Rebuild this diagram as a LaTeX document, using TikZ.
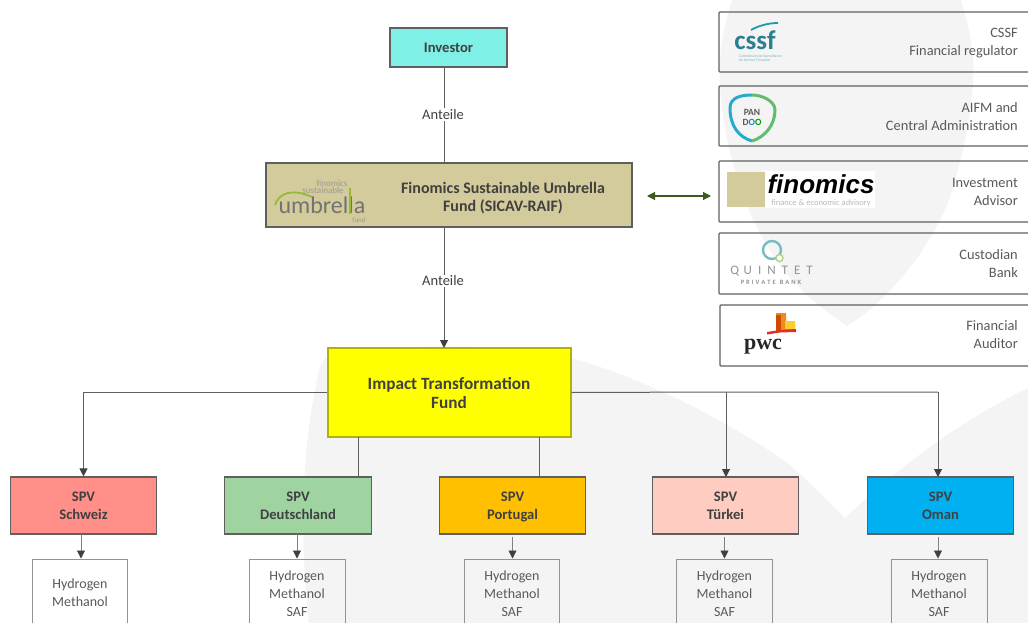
\documentclass[tikz,border=0pt]{standalone}
\usepackage{fontspec}
\setmainfont{Carlito}
\newfontfamily\heavyfont{Liberation Sans}
\newfontfamily\pwcfont{Liberation Serif}
\usetikzlibrary{arrows.meta}
\definecolor{wm}{HTML}{F4F4F4}
\definecolor{linecol}{HTML}{5F5F5F}
\definecolor{txtdark}{HTML}{404040}
\definecolor{txtgray}{HTML}{595959}
\definecolor{teal1}{HTML}{2B7F8C}
\definecolor{tan1}{RGB}{211,203,155}
\definecolor{pureyellow}{RGB}{255,255,0}
\newcommand{\twolines}[2]{\rule{0pt}{15.4pt}#1\\#2\rule[-5.4pt]{0pt}{0pt}}
\tikzset{
  x=1pt,y=-1pt,
  box/.style={draw=linecol,line width=1.2pt,inner sep=0pt,text=txtdark,align=center,font=\bfseries\fontsize{14.6}{18}\selectfont},
  spv/.style={box,minimum width=146.5pt,minimum height=57pt},
  product/.style={draw=gray!85,line width=.9pt,inner sep=0pt,minimum width=95.5pt,minimum height=100pt},
  prodtext/.style={text=txtgray,align=center,inner sep=0pt,font=\fontsize{14}{18}\selectfont},
  panel/.style={draw=linecol,line width=1.1pt,inner sep=0pt,minimum width=340pt,rounded corners=1pt},
  paneltext/.style={text=txtgray,align=right,inner sep=0pt,anchor=east,font=\fontsize{14.4}{18}\selectfont},
  conn/.style={draw=linecol,line width=1pt},
  arr/.style={conn,-{Triangle[width=8pt,length=8pt,color=txtdark]}},
  thinarr/.style={draw=gray,line width=.8pt,-{Triangle[width=8pt,length=8pt,color=txtdark]}},
  flow/.style={text=txtdark,inner sep=1pt,fill=white,font=\fontsize{14.5}{15}\selectfont},
}
\begin{document}
\begin{tikzpicture}
\useasboundingbox (0,0) rectangle (1028,623);
\clip (0,0) rectangle (1028,623);
% watermark
\fill[wm] (733,-2) .. controls (722,30) and (718,60) .. (720,85)
  .. controls (724,150) and (745,225) .. (790,278)
  .. controls (808,298) and (828,313) .. (847,326)
  .. controls (885,303) and (925,255) .. (945,210)
  .. controls (965,160) and (978,80) .. (972,50)
  .. controls (970,30) and (965,12) .. (960,-2) -- cycle;
\fill[wm] (309,625) .. controls (300,540) and (300,450) .. (320,367)
  .. controls (325,352) and (340,350) .. (370,349)
  .. controls (440,345) and (520,345) .. (571,358)
  .. controls (650,380) and (735,425) .. (790,465)
  .. controls (810,483) and (830,503) .. (845,518)
  .. controls (885,480) and (950,425) .. (1030,387)
  -- (1030,625) -- cycle;
% main boxes
\node[box,fill={rgb,255:red,127;green,240;blue,230},minimum width=117pt,minimum height=39pt] (investor) at (448.5,47.5) {Investor};
\node[box,fill=tan1,minimum width=366pt,minimum height=64pt] (umbrella) at (449,195) {};
\node[box,draw=none,inner sep=0pt,fill=none,font=\bfseries\fontsize{16}{18}\selectfont] (umbrellatext) at (503,198.5) {Finomics Sustainable Umbrella\\Fund (SICAV-RAIF)};
\node[box,draw=pureyellow!70!black,fill=pureyellow,minimum width=243pt,minimum height=89pt] (impact) at (449.5,392.5) {};
\node[box,draw=none,fill=none,font=\bfseries\fontsize{17.2}{19}\selectfont] (impacttext) at (449,393) {Impact Transformation\\Fund};
% SPVs
\node[spv,fill={rgb,255:red,255;green,143;blue,136}] (ch) at (83.5,505.5) {\twolines{SPV}{Schweiz}};
\node[spv,fill={rgb,255:red,159;green,211;blue,160}] (de) at (298,505.5) {\twolines{SPV}{Deutschland}};
\node[spv,fill={rgb,255:red,255;green,192;blue,0}] (pt) at (512.5,505.5) {\twolines{SPV}{Portugal}};
\node[spv,fill={rgb,255:red,255;green,204;blue,194}] (tr) at (725.5,505.5) {\twolines{SPV}{Türkei}};
\node[spv,fill={rgb,255:red,0;green,176;blue,240}] (om) at (940.5,505.5) {\twolines{SPV}{Oman}};
% products
\node[product] (pch) at (80,609) {};
\node[product] (pde) at (297.5,609) {};
\node[product] (ppt) at (512,609) {};
\node[product] (ptr) at (724.5,609) {};
\node[product] (pom) at (939.5,609) {};
\node[prodtext] (tch) at (80,593) {Hydrogen\\Methanol};
\node[prodtext] (tde) at (297,594) {Hydrogen\\Methanol\\SAF};
\node[prodtext] (tpt) at (512,594) {Hydrogen\\Methanol\\SAF};
\node[prodtext] (ttr) at (724.5,594) {Hydrogen\\Methanol\\SAF};
\node[prodtext] (tom) at (939,594) {Hydrogen\\Methanol\\SAF};
% connectors
\coordinate (ia) at (444,67);
\coordinate (ub) at (444,163);
\coordinate (uc) at (444,227);
\coordinate (ic) at (444,348);
\coordinate (ide) at (358,437);
\coordinate (ipt) at (539,437);
\coordinate (dh) at (358,477);
\coordinate (ph) at (539,477);
\coordinate (tj) at (726,392);
\coordinate (oj) at (938,392);
\coordinate (ttop) at (726,477);
\coordinate (otop) at (938,477);
\coordinate (fl) at (647,196);
\coordinate (fr) at (711,196);
\draw[conn] (ia) -- (ub);
\draw[arr] (uc) -- (ic);
\node[flow] (ant1) at (443,114.5) {Anteile};
\node[flow] (ant2) at (443,281) {Anteile};
\draw[arr] (impact.west) -| (ch.north);
\draw[conn] (ide) -- (dh);
\draw[conn] (ipt) -- (ph);
\draw[conn] (impact.east) -- (tj) -- (oj);
\draw[arr] (tj) -- (ttop);
\draw[arr] (oj) -- (otop);
\draw[draw={rgb,255:red,62;green,88;blue,30},line width=1.1pt,{Triangle[width=8pt,length=8pt]}-{Triangle[width=8pt,length=8pt]}] (fl) -- (fr);
% SPV to product
\coordinate (a1) at (81,534);\coordinate (b1) at (81,558.5);
\coordinate (a2) at (297,534);\coordinate (b2) at (297,558.5);
\coordinate (a3) at (512.5,537);\coordinate (b3) at (512.5,558.5);
\coordinate (a4) at (724.5,537);\coordinate (b4) at (724.5,558.5);
\coordinate (a5) at (938,537);\coordinate (b5) at (938,558.5);
\draw[thinarr] (a1) -- (b1);
\draw[thinarr] (a2) -- (b2);
\draw[thinarr] (a3) -- (b3);
\draw[thinarr] (a4) -- (b4);
\draw[thinarr] (a5) -- (b5);
% right panels
\node[panel,minimum height=60pt] (p1) at (889,42) {};
\node[panel,minimum height=60pt] (p2) at (889,116) {};
\node[panel,minimum height=61pt] (p3) at (889,191.5) {};
\node[panel,minimum height=61pt] (p4) at (889,263.5) {};
\node[panel,minimum height=61pt] (p5) at (890,335.5) {};
\node[paneltext] (t1) at (1018,43.5) {CSSF\\Financial regulator};
\node[paneltext] (t2) at (1018,117) {AIFM and\\Central Administration};
\node[paneltext] (t3) at (1018,191.5) {Investment\\Advisor};
\node[paneltext] (t4) at (1018,263.5) {Custodian\\Bank};
\node[paneltext] (t5) at (1018,335) {Financial\\Auditor};
% cssf logo
\node[text=teal1,inner sep=0pt,font=\bfseries\fontsize{27}{27}\selectfont] (lcssf) at (755,40) {cssf};
\draw[teal1!80!cyan,line width=1.8pt] (751,30) .. controls (758,26) and (768,23) .. (778,23);
\node[text=teal1!60,inner sep=0pt,align=left,font=\fontsize{3.8}{4.2}\selectfont] (lcssf2) at (760.5,58) {Commission de Surveillance\\du Secteur Financier};
% pandoo logo
\draw[line width=3pt,color={rgb,255:red,40;green,170;blue,205}] (752,95) .. controls (742,95) and (730,97) .. (730,108) .. controls (730,125) and (738,137) .. (752,141);
\draw[line width=3pt,color={rgb,255:red,95;green,190;blue,110}] (752,95) .. controls (762,95) and (775,101) .. (775,110) .. controls (775,125) and (765,137) .. (752,141);
\node[text=txtgray,inner sep=0pt,align=center,font=\bfseries\fontsize{9.5}{9.5}\selectfont] (lpan) at (752,117.5) {PAN\\D{\color{cyan!70!blue}O}{\color{green!60!black}O}};
% finomics logo
\fill[white] (765,171) rectangle (875,208);
\fill[tan1] (727,172) rectangle (765,207);
\node[inner sep=0pt,text=black,font=\heavyfont\bfseries\itshape\fontsize{26}{26}\selectfont] (lfin) at (821,184) {finomics};
\node[inner sep=0pt,text=gray!55,font=\fontsize{8.5}{9}\selectfont] (lfin2) at (821,203) {finance \& economic advisory};
% quintet logo
\draw[color={rgb,255:red,115;green,190;blue,195},line width=2.4pt] (772,250) circle (9);
\draw[color={rgb,255:red,175;green,210;blue,130},line width=1.4pt,fill=white] (779.5,258) circle (3.5);
\node[inner sep=0pt,text=gray!85,font=\fontsize{13}{13}\selectfont] (lq) at (771.5,271) {Q\hspace{4.6pt}U\hspace{6pt}I\hspace{6pt}N\hspace{6pt}T\hspace{6pt}E\hspace{6pt}T};
\node[inner sep=0pt,text=gray!85,font=\bfseries\fontsize{6.5}{6.5}\selectfont] (lq2) at (771,282.5) {P\hspace{2pt}R\hspace{2pt}I\hspace{2pt}V\hspace{2pt}A\hspace{2pt}T\hspace{2pt}E\hspace{4pt}B\hspace{2pt}A\hspace{2pt}N\hspace{2pt}K};
% pwc logo
\fill[color={rgb,255:red,235;green,140;blue,30}] (776,313) -- (786,313) -- (786,321) -- (795,321) -- (795,330) -- (776,330) -- cycle;
\fill[color={rgb,255:red,250;green,205;blue,50}] (785,321) rectangle (795,329);
\fill[color={rgb,255:red,208;green,74;blue,2}] (776,315) rectangle (781,331);
\fill[color={rgb,255:red,224;green,48;blue,30}] (767,332) -- (780,330) -- (796,329) -- (796,332) -- (780,332.5) -- (767,334.5) -- cycle;
\node[inner sep=0pt,text=black!85,font=\pwcfont\bfseries\fontsize{22}{22}\selectfont] (lpwc) at (763,347) {pwc};
% umbrella logo
\draw[color={rgb,255:red,150;green,185;blue,60},line width=1.8pt] (275,205) .. controls (279,193) and (292,188) .. (312,197);
\node[inner sep=0pt,text=black!55,font=\fontsize{24}{24}\selectfont] (lu) at (322,205) {umbrella};
\draw[color={rgb,255:red,150;green,185;blue,60},line width=1.8pt] (350,188) -- (350,214);
\node[inner sep=0pt,text=black!40,font=\fontsize{9}{9}\selectfont] (lu1) at (332,183) {finomics};
\node[inner sep=0pt,text=black!40,font=\fontsize{9}{9}\selectfont] (lu2) at (323,190) {sustainable};
\node[inner sep=0pt,text=black!40,font=\fontsize{7}{7}\selectfont] (lu3) at (359,220) {fund};
\end{tikzpicture}
\end{document}
